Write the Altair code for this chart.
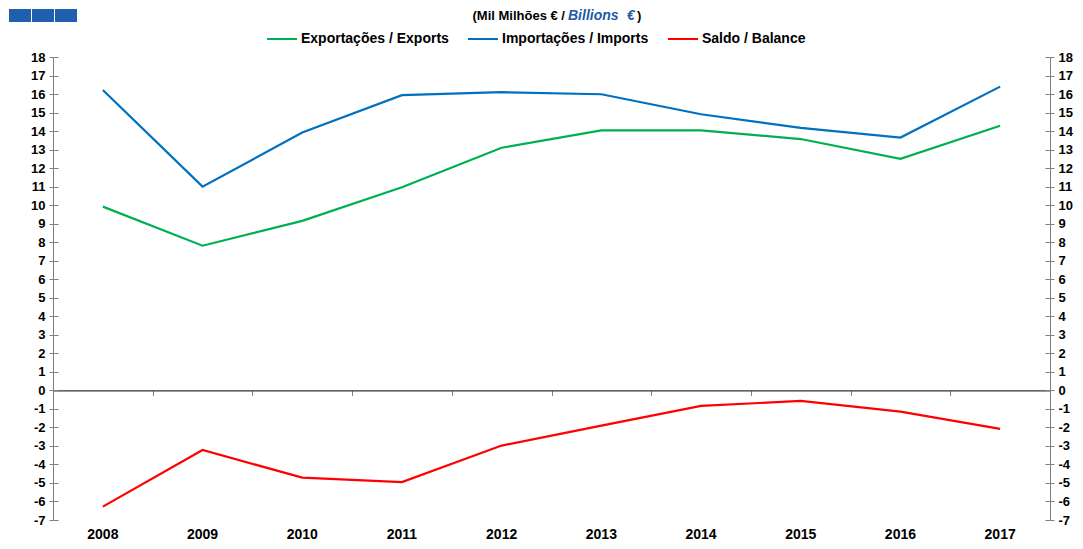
import altair as alt
import pandas as pd

years = ["2008", "2009", "2010", "2011", "2012", "2013", "2014", "2015", "2016", "2017"]
exports = [9.92, 7.81, 9.15, 10.97, 13.10, 14.04, 14.04, 13.57, 12.50, 14.29]
imports = [16.22, 11.00, 13.92, 15.94, 16.10, 15.99, 14.91, 14.17, 13.65, 16.40]
balance = [-6.28, -3.22, -4.71, -4.95, -2.98, -1.90, -0.84, -0.57, -1.15, -2.08]
series_names = ["Exportações / Exports", "Importações / Imports", "Saldo / Balance"]
series_colors = ["#00B050", "#0070C0", "#FF0000"]
y_ticks = list(range(-7, 19))

rows = []
for name, vals in zip(series_names, [exports, imports, balance]):
    for yr, v in zip(years, vals):
        rows.append({"year": yr, "series": name, "value": v})
df = pd.DataFrame(rows)

W, H = 997, 463
YMIN, YMAX = -7, 18
FONT = "Liberation Sans"
FS = 13

xscale = alt.Scale(type="band", paddingInner=0, paddingOuter=0, domain=years)
yscale = alt.Scale(domain=[YMIN, YMAX], nice=False, zero=False)
ylab = "'' + datum.value"

base = alt.Chart(df)

lines = base.mark_line(strokeWidth=2.2).encode(
    x=alt.X("year:O", scale=xscale, title=None,
            axis=alt.Axis(domain=False, ticks=False, labelAngle=0, labelPadding=7,
                          labelFont=FONT, labelFontSize=14, labelFontWeight="bold",
                          labelColor="#000")),
    y=alt.Y("value:Q", scale=yscale, title=None,
            axis=alt.Axis(orient="left", values=y_ticks, grid=False, tickSize=4,
                          domainColor="#808080", tickColor="#808080", labelPadding=4,
                          labelExpr=ylab,
                          labelFont=FONT, labelFontSize=FS, labelFontWeight="bold",
                          labelColor="#000")),
    color=alt.Color("series:N", scale=alt.Scale(domain=series_names, range=series_colors),
                    legend=alt.Legend(title=None, orient="none", direction="horizontal",
                                      legendX=213, legendY=-34, symbolType="stroke",
                                      symbolSize=900, symbolStrokeWidth=2,
                                      labelFont=FONT, labelFontSize=14,
                                      labelFontWeight="bold", labelColor="#000",
                                      columnPadding=15, labelOffset=3)),
)

zero_offset = -H * (0 - YMIN) / (YMAX - YMIN)

zero_axis = base.mark_line(opacity=0).encode(
    x=alt.X("year:O", scale=xscale, title=None,
            axis=alt.Axis(orient="bottom", offset=zero_offset, labels=False, ticks=True,
                          tickBand="extent", tickSize=5, domainColor="#333333",
                          tickColor="#808080", domainWidth=1.2)),
    y=alt.Y("value:Q", scale=yscale, title=None,
            axis=alt.Axis(orient="right", values=y_ticks, grid=False, tickSize=4,
                          domainColor="#808080", tickColor="#808080", labelPadding=4,
                          labelExpr=ylab,
                          labelFont=FONT, labelFontSize=FS, labelFontWeight="bold",
                          labelColor="#000")),
    detail="series:N",
)

inner_left = base.mark_line(opacity=0).encode(
    y=alt.Y("value:Q", scale=yscale, title=None,
            axis=alt.Axis(orient="left", offset=-5, values=y_ticks, grid=False, tickSize=5,
                          domain=False, labels=False, tickColor="#808080")),
    x=alt.X("year:O", scale=xscale, axis=None),
    detail="series:N",
)
inner_right = base.mark_line(opacity=0).encode(
    y=alt.Y("value:Q", scale=yscale, title=None,
            axis=alt.Axis(orient="right", offset=-5, values=y_ticks, grid=False, tickSize=5,
                          domain=False, labels=False, tickColor="#808080")),
    x=alt.X("year:O", scale=xscale, axis=None),
    detail="series:N",
)

one = pd.DataFrame({"k": [0]})
TY = -41
t1 = alt.Chart(one).mark_text(align="right", baseline="middle", font=FONT, fontSize=FS,
                              fontWeight="bold", color="#000").encode(
    x=alt.value(512), y=alt.value(TY), text=alt.value("(Mil Milhões € /"))
t2 = alt.Chart(one).mark_text(align="left", baseline="middle", font=FONT, fontSize=14,
                              fontWeight="bold", fontStyle="italic", color="#1F5AA6").encode(
    x=alt.value(515), y=alt.value(TY), text=alt.value("Billions"))
t2b = alt.Chart(one).mark_text(align="left", baseline="middle", font=FONT, fontSize=14,
                               fontWeight="bold", fontStyle="italic", color="#1F5AA6").encode(
    x=alt.value(574), y=alt.value(TY), text=alt.value("€"))
t3 = alt.Chart(one).mark_text(align="left", baseline="middle", font=FONT, fontSize=FS,
                              fontWeight="bold", color="#000").encode(
    x=alt.value(584), y=alt.value(TY), text=alt.value(")"))

logo = []
for x0 in [-44, -21, 2]:
    logo.append(alt.Chart(one).mark_rect(color="#1F5FAD").encode(
        x=alt.value(x0), x2=alt.value(x0 + 22), y=alt.value(-48), y2=alt.value(-35)))

chart = alt.layer(lines, zero_axis, inner_left, inner_right, t1, t2, t2b, t3, *logo).resolve_axis(
    x="independent", y="independent"
).properties(
    width=W, height=H,
    autosize=alt.AutoSizeParams(type="none"),
    padding={"left": 45, "top": 49, "right": 25, "bottom": 21},
).configure_view(stroke=None)

chart.save("out.html", embed_options={"renderer": "svg", "actions": False})
